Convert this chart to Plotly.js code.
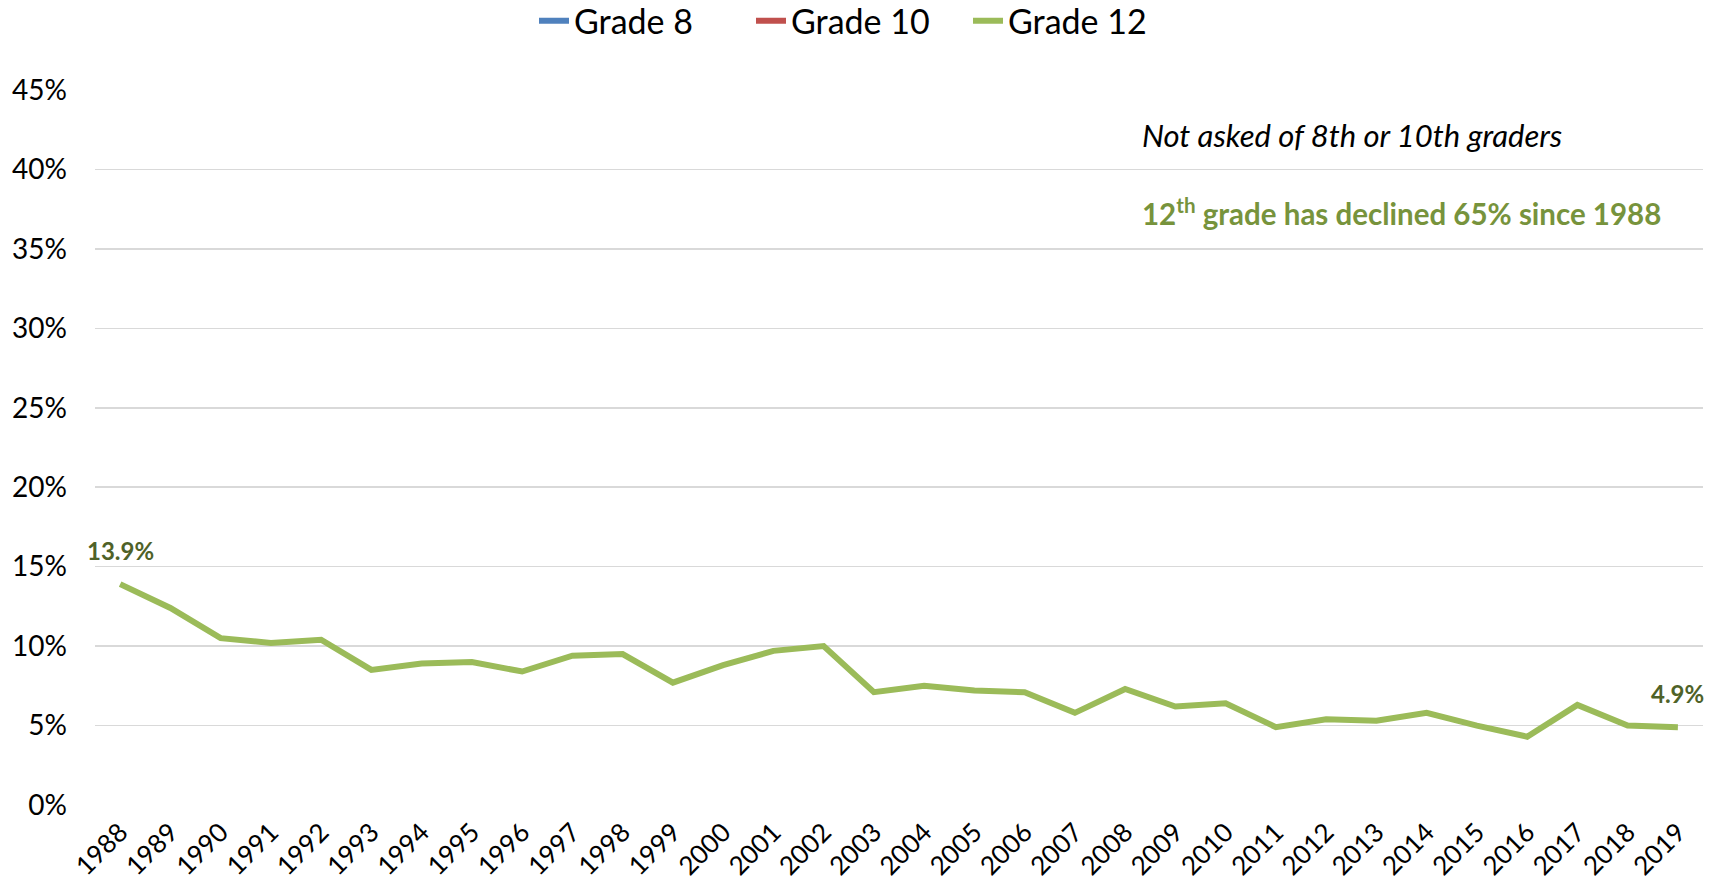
<!DOCTYPE html>
<html>
<head>
<meta charset="utf-8">
<script src="https://cdn.plot.ly/plotly-3.0.1.min.js"></script>
<style>
  html, body { margin: 0; padding: 0; background: #fff; }
  #chart { width: 1719px; height: 885px; }
</style>
</head>
<body>
<div id="chart"></div>
<script>
// ---- Data ----
const years = ['1988','1989','1990','1991','1992','1993','1994','1995','1996','1997','1998','1999','2000','2001','2002','2003','2004','2005','2006','2007','2008','2009','2010','2011','2012','2013','2014','2015','2016','2017','2018','2019'];
// Grade 8 and Grade 10 were not asked this question: no values
const grade8Values = [null,null,null,null,null,null,null,null,null,null,null,null,null,null,null,null,null,null,null,null,null,null,null,null,null,null,null,null,null,null,null,null];
const grade10Values = [null,null,null,null,null,null,null,null,null,null,null,null,null,null,null,null,null,null,null,null,null,null,null,null,null,null,null,null,null,null,null,null];
const grade12Values = [13.9,12.4,10.5,10.2,10.4,8.5,8.9,9.0,8.4,9.4,9.5,7.7,8.8,9.7,10.0,7.1,7.5,7.2,7.1,5.8,7.3,6.2,6.4,4.9,5.4,5.3,5.8,5.0,4.3,6.3,5.0,4.9];
const seriesNames = ['Grade 8', 'Grade 10', 'Grade 12'];
const yTickValues = [0,5,10,15,20,25,30,35,40,45];
const yTickLabels = ['0%','5%','10%','15%','20%','25%','30%','35%','40%','45%'];
const noteText = 'Not asked of 8th or 10th graders';
const declineText = '12<sup>th</sup> grade has declined 65% since 1988';

const FONT = 'Lato, "Open Sans", "Noto Sans", sans-serif';

const traces = [
  {x: years, y: grade8Values, name: seriesNames[0], type: 'scatter', mode: 'lines',
   line: {color: '#4F81BD', width: 6}, showlegend: true},
  {x: years, y: grade10Values, name: seriesNames[1], type: 'scatter', mode: 'lines',
   line: {color: '#C0504D', width: 6}, showlegend: true},
  {x: years, y: grade12Values, name: seriesNames[2], type: 'scatter', mode: 'lines',
   line: {color: '#9BBB59', width: 6}, showlegend: true}
];

const firstIdx = 0, lastIdx = grade12Values.length - 1;

const layout = {
  width: 1719, height: 885,
  paper_bgcolor: '#ffffff', plot_bgcolor: '#ffffff',
  margin: {l: 95, r: 16, t: 90, b: 80},
  font: {family: FONT, color: '#000'},
  showlegend: true,
  legend: {
    orientation: 'h', xref: 'container', yref: 'container',
    x: 0.5, xanchor: 'center', y: 0.976, yanchor: 'middle',
    font: {family: FONT, size: 34, color: '#000'},
    traceorder: 'normal', entrywidth: 172, entrywidthmode: 'pixels'
  },
  xaxis: {
    type: 'category', tickangle: -45,
    tickfont: {family: FONT, size: 26, color: '#000'},
    showgrid: false, zeroline: false, showline: false, ticks: '',
    ticklabelstandoff: 6,
    range: [-0.5, years.length - 0.5], fixedrange: true
  },
  yaxis: {
    range: [0, 45], tickmode: 'array', tickvals: yTickValues, ticktext: yTickLabels,
    tickfont: {family: FONT, size: 28, color: '#000'},
    showgrid: true, gridcolor: '#D9D9D9', gridwidth: 1.5,
    zeroline: false, showline: false, ticks: '', ticklabelstandoff: 27,
    fixedrange: true
  },
  shapes: [
    {type: 'rect', xref: 'paper', yref: 'paper', x0: 0.637, x1: 0.994, y0: 0.797, y1: 0.98,
     fillcolor: '#ffffff', line: {width: 0}, layer: 'below'}
  ],
  annotations: [
    {xref: 'paper', yref: 'paper', x: 0.650, y: 0.937, xanchor: 'left', yanchor: 'middle',
     text: '<i>' + noteText + '</i>', showarrow: false,
     font: {family: FONT, size: 31, color: '#000'}},
    {xref: 'paper', yref: 'paper', x: 0.650, y: 0.830, xanchor: 'left', yanchor: 'middle',
     text: '<b>' + declineText + '</b>', showarrow: false,
     font: {family: FONT, size: 29.5, color: '#77933C'}},
    {x: firstIdx, y: grade12Values[firstIdx], xref: 'x', yref: 'y',
     text: '<b>' + grade12Values[firstIdx].toFixed(1) + '%</b>', showarrow: false,
     xshift: 0, yshift: 34, font: {family: FONT, size: 24, color: '#4F6228'}},
    {x: lastIdx, y: grade12Values[lastIdx], xref: 'x', yref: 'y',
     text: '<b>' + grade12Values[lastIdx].toFixed(1) + '%</b>', showarrow: false,
     xshift: 0, yshift: 34, font: {family: FONT, size: 24, color: '#4F6228'}}
  ]
};

Plotly.newPlot('chart', traces, layout, {displayModeBar: false, staticPlot: true});
</script>
</body>
</html>
